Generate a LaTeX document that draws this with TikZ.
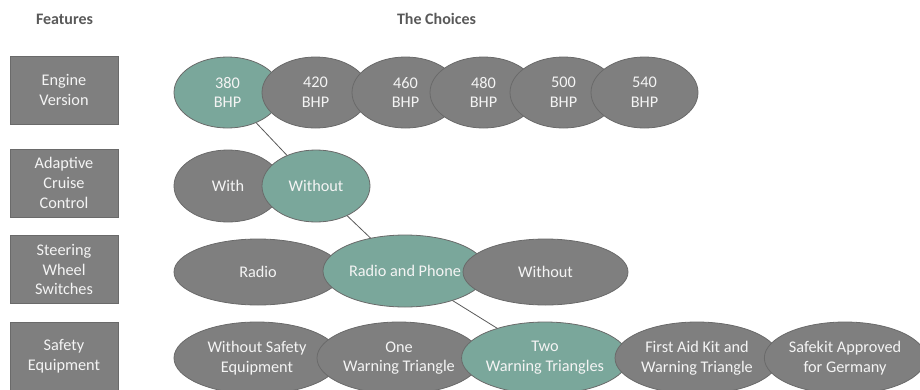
\documentclass[tikz,border=0pt]{standalone}
\usepackage{fontspec}
\setmainfont{Carlito}
\usetikzlibrary{shapes.geometric}
\pgfdeclarelayer{background}
\pgfsetlayers{background,main}
\definecolor{boxgray}{HTML}{7F7F7F}
\definecolor{edgegray}{HTML}{6A6A6A}
\definecolor{selteal}{HTML}{7AA79B}
\definecolor{headgray}{HTML}{595959}
\definecolor{txtwhite}{HTML}{F4F4F4}
\tikzset{
  base/.style={font=\fontsize{12.2}{14.8}\selectfont, text=txtwhite, align=center, inner sep=0pt, line width=0.6pt},
  featbox/.style={base, rectangle, draw=edgegray, fill=boxgray, minimum width=81pt, minimum height=51pt},
  opt/.style={base, ellipse, draw=edgegray, fill=boxgray},
  sel/.style={base, ellipse, draw=edgegray, fill=selteal},
  head/.style={font=\fontsize{12}{14}\selectfont\bfseries, text=headgray, inner sep=0pt},
  link/.style={draw=headgray, line width=0.6pt}
}
\begin{document}
\begin{tikzpicture}[x=0.75pt,y=-0.75pt]
\useasboundingbox (0,0) rectangle (920,389);
% headers
\node[head] (hf) at (64.5,19) {Features};
\node[head] (hc) at (436.5,19) {The Choices};
% feature boxes
\node[featbox] (f1) at (64,90) {Engine\\Version};
\node[featbox] (f2) at (64,183) {Adaptive\\Cruise\\Control};
\node[featbox] (f3) at (64,269.5) {Steering\\Wheel\\Switches};
\node[featbox] (f4) at (64,356) {Safety\\Equipment};
% row 1
\node[sel, minimum width=80.25pt, minimum height=53.25pt] (e1) at (227.5,92.5) {380\\BHP};
\node[opt, minimum width=80.25pt, minimum height=53.25pt] (e2) at (315.5,92.5) {420\\BHP};
\node[opt, minimum width=80.25pt, minimum height=53.25pt] (e3) at (405.5,92.5) {460\\BHP};
\node[opt, minimum width=80.25pt, minimum height=53.25pt] (e4) at (483.5,92.5) {480\\BHP};
\node[opt, minimum width=80.25pt, minimum height=53.25pt] (e5) at (563.5,92.5) {500\\BHP};
\node[opt, minimum width=80.25pt, minimum height=53.25pt] (e6) at (644.5,92.5) {540\\BHP};
% row 2
\node[opt, minimum width=81pt, minimum height=54pt] (a1) at (228,186) {With};
\node[sel, minimum width=81pt, minimum height=54pt] (a2) at (316,186) {Without};
% row 3
\node[opt, minimum width=126pt, minimum height=49.5pt] (s1) at (258,272) {Radio};
\node[sel, minimum width=123pt, minimum height=54pt] (s2) at (405,271) {Radio and Phone};
\node[opt, minimum width=123.75pt, minimum height=49.5pt] (s3) at (545.5,272) {Without};
% row 4
\node[opt, minimum width=124.5pt, minimum height=54pt] (q1) at (257,358) {Without Safety\\Equipment};
\node[opt, minimum width=123pt, minimum height=54pt] (q2) at (399,358) {One\\Warning Triangle};
\node[sel, minimum width=123pt, minimum height=54pt] (q3) at (545,358) {Two\\Warning Triangles};
\node[opt, minimum width=123pt, minimum height=54pt] (q4) at (697,358) {First Aid Kit and\\Warning Triangle};
\node[opt, minimum width=121pt, minimum height=54pt] (q5) at (845,358) {Safekit Approved\\for Germany};
% connectors
\begin{pgfonlayer}{background}
\draw[link] (e1.center) -- (a2.center);
\draw[link] (a2.center) -- (s2.center);
\draw[link] (s2.center) -- (q3.center);
\end{pgfonlayer}
\end{tikzpicture}
\end{document}
